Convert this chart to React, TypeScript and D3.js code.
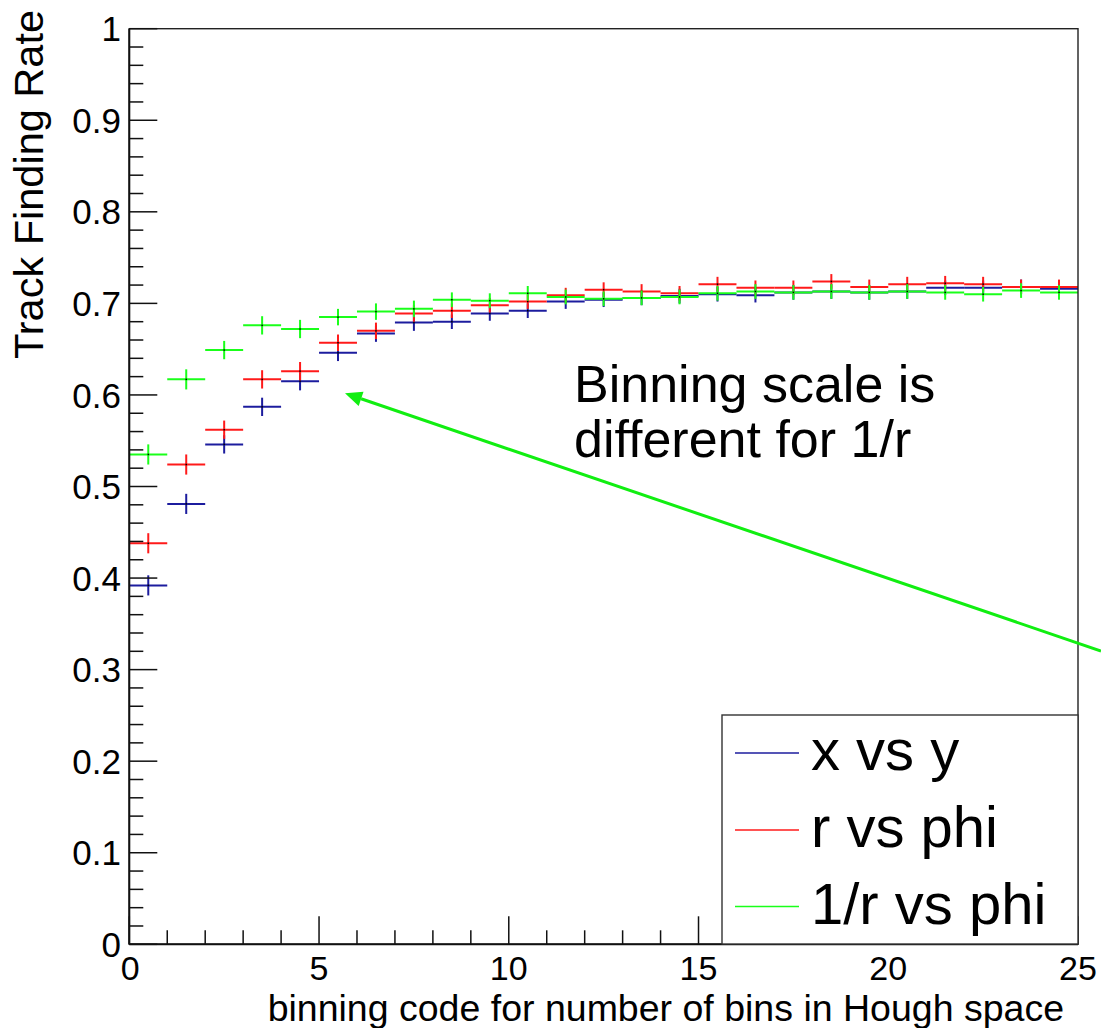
import React from "react";
import * as d3 from "d3";

// ---- data ----
const binLowEdges = [0, 1, 2, 3, 4, 5, 6, 7, 8, 9, 10, 11, 12, 13, 14, 15, 16, 17, 18, 19, 20, 21, 22, 23, 24];
const xVsY = [0.392, 0.481, 0.546, 0.587, 0.615, 0.646, 0.667, 0.679, 0.680, 0.689, 0.692, 0.702, 0.704, 0.706, 0.708, 0.710, 0.709, 0.712, 0.713, 0.712, 0.713, 0.717, 0.717, 0.718, 0.716];
const rVsPhi = [0.438, 0.524, 0.562, 0.617, 0.626, 0.657, 0.670, 0.689, 0.692, 0.698, 0.702, 0.709, 0.715, 0.713, 0.711, 0.721, 0.717, 0.717, 0.724, 0.718, 0.721, 0.722, 0.721, 0.718, 0.718];
const invRVsPhi = [0.535, 0.617, 0.649, 0.676, 0.672, 0.685, 0.691, 0.694, 0.704, 0.703, 0.711, 0.707, 0.705, 0.706, 0.707, 0.711, 0.713, 0.712, 0.713, 0.712, 0.713, 0.712, 0.710, 0.714, 0.712];
const binErrors = [0.011, 0.011, 0.010, 0.010, 0.010, 0.009, 0.009, 0.009, 0.008, 0.008, 0.008, 0.008, 0.008, 0.008, 0.008, 0.008, 0.008, 0.008, 0.008, 0.008, 0.008, 0.008, 0.008, 0.008, 0.008];
const seriesNames = ["x vs y", "r vs phi", "1/r vs phi"];
const seriesColors = ["#1c1c9e", "#ff1a1a", "#1aff1a"];
const seriesValues = [xVsY, rVsPhi, invRVsPhi];
const yTickValues = [0, 0.1, 0.2, 0.3, 0.4, 0.5, 0.6, 0.7, 0.8, 0.9, 1];
const yTickLabels = ["0", "0.1", "0.2", "0.3", "0.4", "0.5", "0.6", "0.7", "0.8", "0.9", "1"];
const xTickValues = [0, 5, 10, 15, 20, 25];
const xTitle = "binning code for number of bins in Hough space";
const yTitle = "Track Finding Rate";
const noteLines = ["Binning scale is", "different for 1/r"];

const FONT = "'Liberation Sans', Arial, Helvetica, sans-serif";

export default function App() {
  const W = 1101, H = 1028;
  const left = 129.3, right = 1078, top = 28.7, bottom = 944.3;
  const x = d3.scaleLinear().domain([0, 25]).range([left, right]);
  const y = d3.scaleLinear().domain([0, 1]).range([bottom, top]);
  const xMinor = d3.range(0, 26, 1);
  const yMinor = d3.range(0, 1.0001, 0.02);

  // arrow
  const tip = { x: 345, y: 393.3 };
  const tail = { x: 1101, y: 651 };
  const ang = Math.atan2(tail.y - tip.y, tail.x - tip.x);
  const hl = 17, hw = 7.5;
  const bx = tip.x + hl * Math.cos(ang), by = tip.y + hl * Math.sin(ang);
  const head = [
    [tip.x, tip.y],
    [bx - hw * Math.sin(ang), by + hw * Math.cos(ang)],
    [bx + hw * Math.sin(ang), by - hw * Math.cos(ang)],
  ];

  const legX0 = 722, legY0 = 715, legX1 = 1078, legY1 = 944;
  const legRows = [753, 830, 906.5];

  return (
    <svg width={W} height={H} style={{ position: "absolute", left: 0, top: 0, background: "#fff" }} fontFamily={FONT}>
      <rect x={0} y={0} width={W} height={H} fill="#fff" />
      {/* data */}
      {seriesValues.map((vals, si) => (
        <g key={si} stroke={seriesColors[si]} strokeWidth={2}>
          {vals.map((v, i) => {
            const x0 = x(binLowEdges[i]), x1 = x(binLowEdges[i] + 1), xc = x(binLowEdges[i] + 0.5);
            return (
              <g key={i}>
                <line x1={x0} x2={x1} y1={y(v)} y2={y(v)} />
                <line x1={xc} x2={xc} y1={y(v - binErrors[i])} y2={y(v + binErrors[i])} />
                <rect x={xc - 0.75} y={y(v) - 0.75} width={1.5} height={1.5} fill="#000" stroke="none" />
              </g>
            );
          })}
        </g>
      ))}
      {/* frame */}
      <rect x={left} y={top} width={right - left} height={bottom - top} fill="none" stroke="#222" strokeWidth={1.4} />
      <line x1={left} x2={left} y1={top} y2={bottom} stroke="#111" strokeWidth={2} />
      <line x1={left} x2={right} y1={bottom} y2={bottom} stroke="#111" strokeWidth={2} />
      {/* y ticks */}
      {yMinor.map((t, i) => {
        const major = Math.abs(t * 10 - Math.round(t * 10)) < 1e-6;
        return <line key={i} x1={left} x2={left + (major ? 28 : 14)} y1={y(t)} y2={y(t)} stroke="#111" strokeWidth={1.5} />;
      })}
      {yTickValues.map((t, i) => (
        <text key={i} x={121} y={y(t)} dy="0.36em" textAnchor="end" fontSize={35} fill="#000">{yTickLabels[i]}</text>
      ))}
      {/* x ticks */}
      {xMinor.map((t, i) => {
        const major = t % 5 === 0;
        return <line key={i} x1={x(t)} x2={x(t)} y1={bottom} y2={bottom - (major ? 28 : 14)} stroke="#111" strokeWidth={1.5} />;
      })}
      {xTickValues.map((t, i) => (
        <text key={i} x={x(t) - (t === 0 ? -1 : 0)} y={980} textAnchor="middle" fontSize={34} fill="#000">{String(t)}</text>
      ))}
      {/* titles */}
      <text x={1064} y={1021} textAnchor="end" fontSize={37.5} fill="#000">{xTitle}</text>
      <text transform="translate(43,10) rotate(-90)" textAnchor="end" fontSize={41.5} fill="#000">{yTitle}</text>
      {/* legend */}
      <rect x={legX0} y={legY0} width={legX1 - legX0} height={legY1 - legY0} fill="#fff" stroke="#333" strokeWidth={1.4} />
      {seriesNames.map((n, i) => (
        <g key={i}>
          <line x1={735} x2={799} y1={legRows[i]} y2={legRows[i]} stroke={seriesColors[i]} strokeWidth={1.6} />
          <text x={811} y={legRows[i] + 17} fontSize={58} fill="#000">{n}</text>
        </g>
      ))}
      {/* annotation */}
      {noteLines.map((l, i) => (
        <text key={i} x={574} y={402 + i * 55} fontSize={52} fill="#000">{l}</text>
      ))}
      <line x1={bx} y1={by} x2={tail.x} y2={tail.y} stroke="#11ee11" strokeWidth={3} />
      <polygon points={head.map((p) => p.join(",")).join(" ")} fill="#11ee11" />
    </svg>
  );
}
